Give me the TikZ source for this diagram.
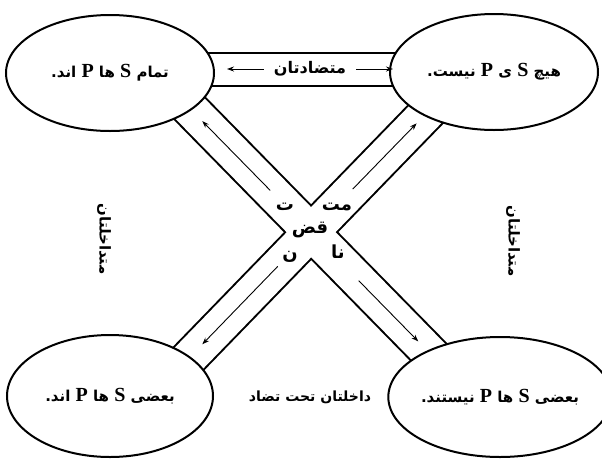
\documentclass[tikz,border=0pt]{standalone}
\usepackage{fontspec}
\TeXXeTstate=1
\newfontfamily\arabicfont[Script=Arabic]{DejaVu Sans}
\newfontfamily\latinserif{Liberation Serif}
\usetikzlibrary{arrows.meta,shapes.geometric,calc}
\newcommand\ptxt[1]{{\arabicfont\bfseries\beginR #1\endR}}
\newcommand\LatS{{\latinserif\bfseries\fontsize{20}{20}\selectfont S}}
\newcommand\LatP{{\latinserif\bfseries\fontsize{20}{20}\selectfont P}}
\tikzset{
  prop/.style={draw, ellipse, line width=2pt, fill=white, inner sep=0pt, font=\fontsize{15}{17}\selectfont},
  bandout/.style={line width=39pt, black},
  bandin/.style={line width=35pt, white},
  inarrow/.style={line width=0.9pt, -{Stealth[length=7pt,width=5pt]}},
  barline/.style={line width=2pt},
  lbl/.style={font=\fontsize{14}{16}\selectfont, inner sep=1pt},
  piece/.style={font=\fontsize{18}{20}\selectfont, inner sep=1pt},
}
\begin{document}
\begin{tikzpicture}[x=1pt,y=-1pt]
\useasboundingbox (0,0) rectangle (602,461);
% crossing bands
\coordinate (X) at (311,232);
\coordinate (b1a) at (160,78);
\coordinate (b1b) at (460,384);
\coordinate (b2a) at (450,89);
\coordinate (b2b) at (160,388);
\draw[bandout] (b1a) -- (b1b);
\draw[bandout] (b2a) -- (b2b);
\draw[bandin] (b1a) -- (b1b);
\draw[bandin] (b2a) -- (b2b);
% top bar
\coordinate (barL) at (190,53);
\coordinate (barR) at (420,86);
\draw[barline, fill=white] (barL) rectangle (barR);
% ellipses
\node[prop, minimum width=208pt, minimum height=116pt] (all) at (110,73)
  {\ptxt{تمام \LatS{} ها \LatP{} اند.}};
\node[prop, minimum width=208pt, minimum height=116pt] (none) at (494,72)
  {\ptxt{هیچ \LatS{} ی \LatP{} نیست.}};
\node[prop, minimum width=206pt, minimum height=122pt] (some) at (110,396)
  {\ptxt{بعضی \LatS{} ها \LatP{} اند.}};
\node[prop, minimum width=200pt, minimum height=120pt] (somenot) at (500,397)
  {\ptxt{بعضی \LatS{} ها \LatP{} نیستند.}};
% contraries arrow
\coordinate (cl) at (227,69);
\coordinate (cr) at (393,69);
\draw[line width=0.9pt, {Stealth[length=7pt,width=5pt]}-{Stealth[length=7pt,width=5pt]}] (cl) -- node[font=\fontsize{16}{18}\selectfont, fill=white, inner ysep=1pt, inner xsep=10pt] {\ptxt{متضادتان}} (cr);
% inner arrows of diagonals
\draw[inarrow] ($(X)!0.27!(b1a)$) -- ($(X)!0.72!(b1a)$);
\draw[inarrow] ($(X)!0.30!(b2a)$) -- ($(X)!0.76!(b2a)$);
\draw[inarrow] ($(X)!0.32!(b1b)$) -- ($(X)!0.72!(b1b)$);
\draw[inarrow] ($(X)!0.22!(b2b)$) -- ($(X)!0.72!(b2b)$);
% contradictories label pieces
\node[piece] (k1) at (337,207) {\ptxt{مت}};
\node[piece] (k2) at (338,252) {\ptxt{نا}};
\node[piece] (k3) at (310,230) {\ptxt{قض}};
\node[piece] (k4) at (285,207) {\ptxt{ت}};
\node[piece] (k5) at (290,257) {\ptxt{ن}};
% subalterns
\node[lbl, font=\fontsize{15}{17}\selectfont, rotate=-90] (subL) at (104,239) {\ptxt{متداخلتان}};
\node[lbl, font=\fontsize{15}{17}\selectfont, rotate=-90] (subR) at (513,241) {\ptxt{متداخلتان}};
% subcontraries
\node[lbl] (subc) at (310,397) {\ptxt{داخلتان تحت تضاد}};
\end{tikzpicture}
\end{document}
